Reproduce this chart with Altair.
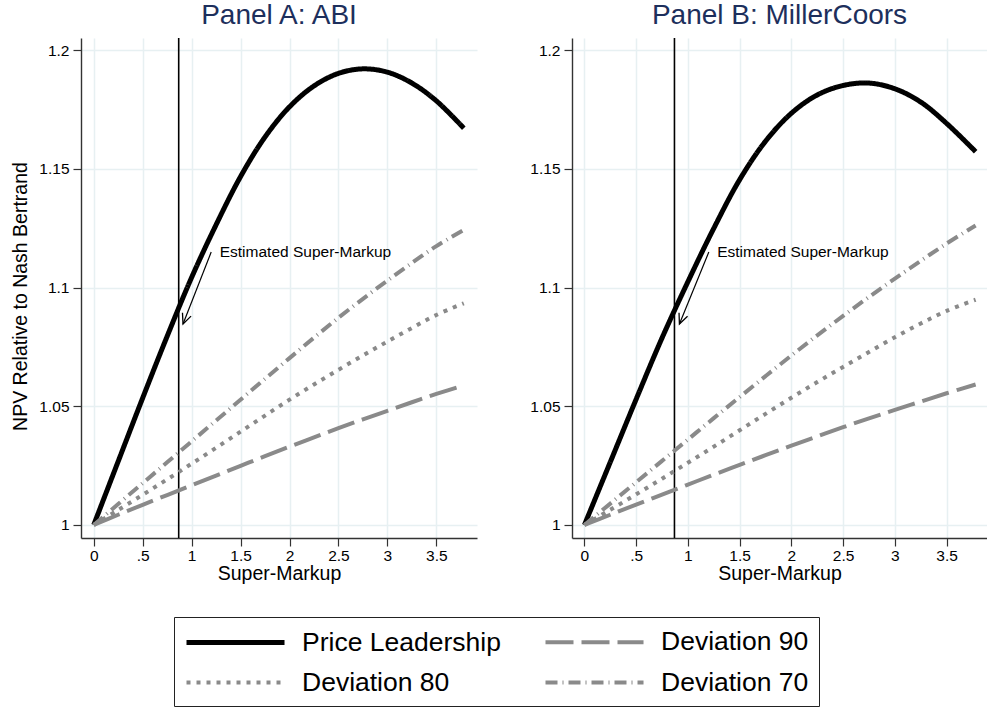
import altair as alt
import pandas as pd

# Super-markup grid shared by every series
X_GRID = [0, 0.25, 0.5, 0.75, 1.0, 1.25, 1.5, 1.75, 2.0, 2.25, 2.5, 2.75, 3.0, 3.25, 3.5, 3.78]

# Panel A: ABI, NPV relative to Nash-Bertrand
ABI_LEADER = [1.0, 1.0268, 1.0535, 1.0795, 1.1043, 1.1265, 1.1468, 1.1635, 1.1762, 1.1850, 1.1903, 1.1922, 1.1908, 1.1862, 1.1787, 1.1672]
ABI_DEV90 = [1.0, 1.0043, 1.0085, 1.0126, 1.0167, 1.0208, 1.0249, 1.029, 1.033, 1.0369, 1.0408, 1.0445, 1.0481, 1.0517, 1.0552, 1.0588]
ABI_DEV80 = [1.0, 1.0063, 1.0127, 1.0192, 1.0258, 1.0325, 1.0393, 1.0461, 1.0528, 1.0592, 1.0654, 1.0714, 1.0773, 1.083, 1.0885, 1.0934]
ABI_DEV70 = [1.0, 1.0088, 1.0176, 1.0264, 1.0352, 1.044, 1.0528, 1.0616, 1.0703, 1.0789, 1.0873, 1.0953, 1.103, 1.1104, 1.1175, 1.1243]

# Panel B: MillerCoors
MC_LEADER = [1.0, 1.0265, 1.053, 1.0788, 1.1025, 1.1250, 1.1455, 1.1617, 1.1735, 1.1812, 1.1852, 1.1862, 1.1838, 1.1782, 1.1692, 1.1573]
MC_DEV90 = [1.0, 1.0043, 1.0086, 1.0128, 1.017, 1.0212, 1.0253, 1.0294, 1.0334, 1.0373, 1.0412, 1.0449, 1.0485, 1.052, 1.0555, 1.0592]
MC_DEV80 = [1.0, 1.0064, 1.0129, 1.0195, 1.0262, 1.033, 1.0399, 1.0468, 1.0536, 1.0602, 1.0666, 1.0729, 1.0791, 1.0849, 1.0902, 1.0949]
MC_DEV70 = [1.0, 1.009, 1.018, 1.027, 1.036, 1.045, 1.0539, 1.0627, 1.0714, 1.0799, 1.0881, 1.0961, 1.1038, 1.1113, 1.1186, 1.1262]

SERIES = ["Price Leadership", "Deviation 90", "Deviation 80", "Deviation 70"]
PANELS = ["Panel A: ABI", "Panel B: MillerCoors"]
PANEL_SERIES = [
    [ABI_LEADER, ABI_DEV90, ABI_DEV80, ABI_DEV70],
    [MC_LEADER, MC_DEV90, MC_DEV80, MC_DEV70],
]

# Estimated super-markup and its annotation
EST_MARKUP = [0.868, 0.870]
NOTE_TEXT = "Estimated Super-Markup"
NOTE_X = [1.287, 1.283]
NOTE_Y = [1.115, 1.115]
ARROW_FROM_X = [1.200, 1.202]
ARROW_FROM_Y = [1.115, 1.115]
ARROW_TO_X = [0.912, 0.918]
ARROW_TO_Y = [1.0847, 1.0847]
ARROW_ANGLE = [21.5, 22.2]

X_TICKS = [0, 0.5, 1, 1.5, 2, 2.5, 3, 3.5]
Y_TICKS = [1, 1.05, 1.1, 1.15, 1.2]

# Layout / style
X_DOMAINS = [[-0.13, 3.915], [-0.12, 3.89]]
Y_DOMAIN = [0.9945, 1.2052]
PANEL_WIDTHS = [396, 415]
PANEL_HEIGHT = 500
FONT = "Liberation Sans"
COLORS = ["#000000", "#8a8a8a", "#8a8a8a", "#8a8a8a"]
DASHES = [[1, 0], [28, 8], [4, 6], [12, 5, 1, 5]]
WIDTHS = [5, 4, 4, 4]
GRID = "#e7f0f2"
# legend key: a horizontal stroke starting at the symbol's left edge
LEGEND_KEY = "M -1 0 H 6.54"


def panel(i):
    rows = []
    for name, vals in zip(SERIES, PANEL_SERIES[i]):
        for xv, yv in zip(X_GRID, vals):
            rows.append({"x": xv, "y": yv, "series": name})
    lines_df = pd.DataFrame(rows)

    xs = alt.Scale(domain=X_DOMAINS[i], nice=False, zero=False)
    ys = alt.Scale(domain=Y_DOMAIN, nice=False, zero=False)
    x_axis = alt.Axis(
        values=X_TICKS,
        labelExpr="datum.value == 0.5 ? '.5' : toString(datum.value)",
        title="Super-Markup",
    )
    y_axis = alt.Axis(
        values=Y_TICKS,
        labelExpr="toString(datum.value)",
        title="NPV Relative to Nash Bertrand" if i == 0 else None,
        titleY=258,
    )
    enc_x = alt.X("x:Q", scale=xs, axis=x_axis)
    enc_y = alt.Y("y:Q", scale=ys, axis=y_axis)

    lines = alt.Chart(lines_df).mark_line(interpolate="catmull-rom", clip=True).encode(
        x=enc_x,
        y=enc_y,
        color=alt.Color("series:N", scale=alt.Scale(domain=SERIES, range=COLORS),
                        legend=alt.Legend(title=None)),
        strokeDash=alt.StrokeDash("series:N", scale=alt.Scale(domain=SERIES, range=DASHES),
                                  legend=alt.Legend(title=None)),
        strokeWidth=alt.StrokeWidth("series:N",
                                    scale=alt.Scale(type="ordinal", domain=SERIES, range=WIDTHS),
                                    legend=alt.Legend(title=None)),
    )

    rule = alt.Chart(pd.DataFrame({"x": [EST_MARKUP[i]]})).mark_rule(
        color="black", strokeWidth=1.6
    ).encode(x=alt.X("x:Q", scale=xs, axis=x_axis))

    arrow_df = pd.DataFrame({
        "x": [ARROW_FROM_X[i]], "y": [ARROW_FROM_Y[i]],
        "x2": [ARROW_TO_X[i]], "y2": [ARROW_TO_Y[i]],
    })
    shaft = alt.Chart(arrow_df).mark_rule(color="black", strokeWidth=1.2).encode(
        x=alt.X("x:Q", scale=xs, axis=x_axis), y=alt.Y("y:Q", scale=ys, axis=y_axis),
        x2="x2:Q", y2="y2:Q",
    )
    head_df = pd.DataFrame({"x": [ARROW_TO_X[i]], "y": [ARROW_TO_Y[i]]})
    head = alt.Chart(head_df).mark_point(
        shape="M -0.45 -1 L 0 0 L 0.45 -1", filled=False, size=420,
        strokeWidth=1.3, color="black", opacity=1, angle=ARROW_ANGLE[i],
    ).encode(x=alt.X("x:Q", scale=xs, axis=x_axis), y=alt.Y("y:Q", scale=ys, axis=y_axis))

    note_df = pd.DataFrame({"x": [NOTE_X[i]], "y": [NOTE_Y[i]], "label": [NOTE_TEXT]})
    note = alt.Chart(note_df).mark_text(
        align="left", baseline="middle", fontSize=15.5, font=FONT, color="black"
    ).encode(x=alt.X("x:Q", scale=xs, axis=x_axis), y=alt.Y("y:Q", scale=ys, axis=y_axis),
             text="label:N")

    return alt.layer(rule, lines, shaft, head, note).properties(
        width=PANEL_WIDTHS[i],
        height=PANEL_HEIGHT,
        title=alt.Title(PANELS[i], fontSize=28, font=FONT, fontWeight="normal",
                        color="#1d2f5c", anchor="middle", frame="group",
                        baseline="alphabetic", offset=-15),
    )


chart = alt.hconcat(panel(0), panel(1), spacing=52).resolve_scale(
    x="independent", y="independent",
    color="shared", strokeDash="shared", strokeWidth="shared",
).properties(
    padding={"left": 10, "top": 2, "right": 0, "bottom": 0},
    background="white",
).configure_view(
    stroke=None,
).configure_axis(
    labelFont=FONT, titleFont=FONT, labelFontSize=15.5, titleFontSize=19.5,
    labelColor="black", titleColor="black", titleFontWeight="normal",
    domainColor="#333333", domainWidth=1.4, tickColor="#333333", tickWidth=1.2,
    tickSize=8, gridColor=GRID, gridWidth=1.5, labelPadding=3,
).configure_axisX(
    titlePadding=1, labelPadding=2,
).configure_axisY(
    titlePadding=8, labelPadding=4,
).configure_legend(
    orient="none", legendX=93, legendY=579, direction="horizontal", columns=2,
    columnPadding=36, rowPadding=11.5, padding=10, strokeColor="#222222",
    fillColor="white", symbolType=LEGEND_KEY, symbolSize=676, labelFont=FONT,
    labelFontSize=26.5, labelColor="black", labelOffset=87, labelLimit=400,
)

chart.save("out.html", embed_options={"renderer": "svg", "actions": False})
